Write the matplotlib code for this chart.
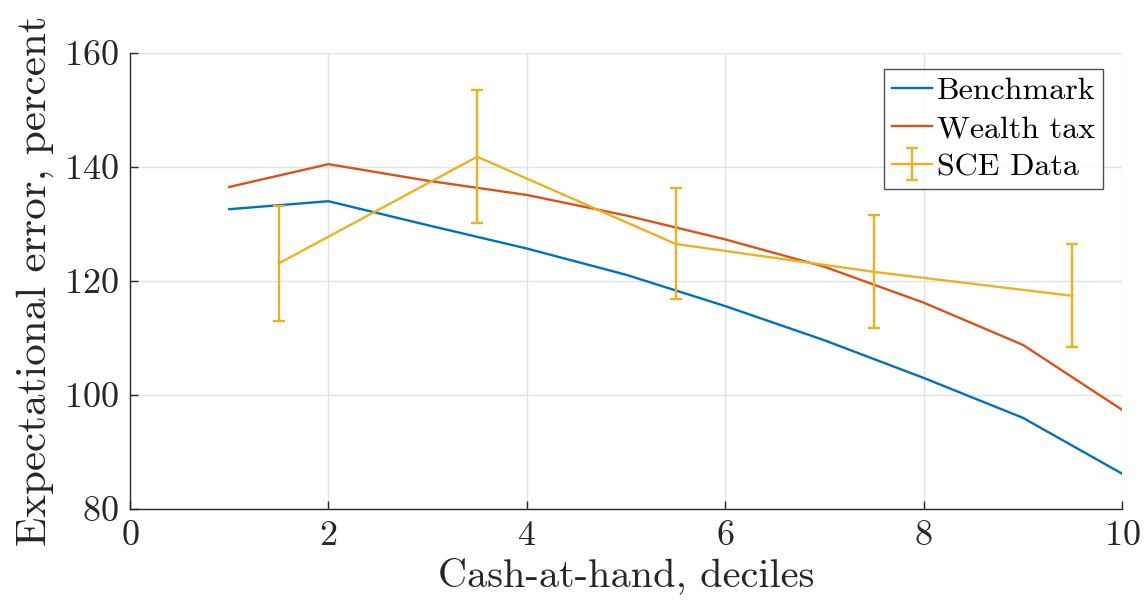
import numpy as np
import matplotlib
matplotlib.use('Agg')
from matplotlib import pyplot as plt

# data
deciles = [1, 2, 3, 4, 5, 6, 7, 8, 9, 10]
benchmark = [132.6, 134.0, 129.8, 125.7, 121.1, 115.6, 109.6, 103.0, 96.0, 86.2]
wealth_tax = [136.5, 140.5, 137.6, 135.1, 131.5, 127.3, 122.5, 116.2, 108.8, 97.4]

sce_x = [1.5, 3.5, 5.5, 7.5, 9.5]
sce_mean = [123.1, 141.8, 126.5, 121.6, 117.4]
sce_low = [113.0, 130.1, 116.8, 111.7, 108.5]
sce_high = [133.2, 153.5, 136.4, 131.5, 126.5]

plt.rcParams['font.family'] = ['cmr10', 'DejaVu Serif']
plt.rcParams['axes.formatter.use_mathtext'] = True
plt.rcParams['mathtext.fontset'] = 'cm'

fig = plt.figure(figsize=(11.45, 6.08), dpi=100)
ax = fig.add_axes([0.1135, 0.1628, 0.8665, 0.75])

ax.plot(deciles, benchmark, color='#0072BD', lw=1.7, label='Benchmark')
ax.plot(deciles, wealth_tax, color='#D95319', lw=1.7, label='Wealth tax')
err = [np.array(sce_mean) - np.array(sce_low), np.array(sce_high) - np.array(sce_mean)]
ax.errorbar(sce_x, sce_mean, yerr=err, color='#EDB120', lw=1.7,
            capsize=4, capthick=1.7, elinewidth=1.7, label='SCE Data')

ax.set_xlim(0, 10)
ax.set_ylim(80, 160)
ax.set_xticks([0, 2, 4, 6, 8, 10])
ax.set_yticks([80, 100, 120, 140, 160])
ax.grid(True, color='#e3e3e3', lw=1.0)
ax.set_axisbelow(True)
for s in ['top', 'right']:
    ax.spines[s].set_visible(False)
for s in ['left', 'bottom']:
    ax.spines[s].set_color('#262626')
    ax.spines[s].set_linewidth(1.0)
ax.tick_params(direction='in', length=6, width=1.0, colors='#262626',
               labelsize=26, pad=8)

ax.set_xlabel('Cash-at-hand, deciles', fontsize=29, color='#262626', labelpad=4)
ax.set_ylabel('Expectational error, percent', fontsize=31, color='#262626', labelpad=7)

leg = ax.legend(loc='upper right', bbox_to_anchor=(0.981, 0.965), fontsize=23,
                frameon=True, fancybox=False, handlelength=1.25,
                handletextpad=0.15, borderpad=0.25, labelspacing=0.3,
                borderaxespad=0.0)
leg.get_frame().set_edgecolor('#262626')
leg.get_frame().set_linewidth(1.0)

fig.savefig('out.png', dpi=100)
